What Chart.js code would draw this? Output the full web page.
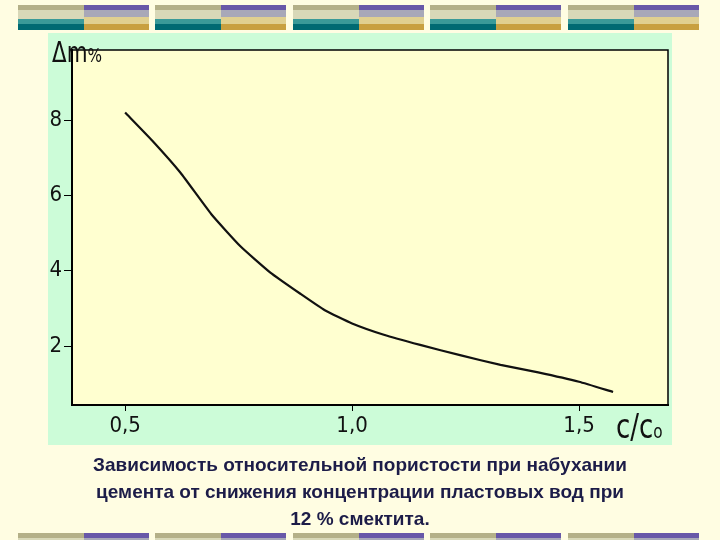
<!DOCTYPE html>
<html><head><meta charset="utf-8">
<script src="https://cdn.jsdelivr.net/npm/chart.js@4"></script>
<style>
body{margin:0;width:720px;height:540px;background:#fffde2;position:relative;overflow:hidden;font-family:'Liberation Sans',Arial,sans-serif}
.g{position:absolute;width:131px;height:25px}
.l{position:absolute;left:0;top:0;width:50%;height:100%;background:linear-gradient(#b4b088 0,#b4b088 20%,#d8d8b8 20%,#d8d8b8 55%,#3a9a98 55%,#3a9a98 75%,#006a72 75%)}
.r{position:absolute;right:0;top:0;width:50%;height:100%;background:linear-gradient(#6858a8 0,#6858a8 20%,#a8a8b8 20%,#a8a8b8 50%,#e0d090 50%,#e0d090 75%,#c8a040 75%)}
#panel{position:absolute;left:48px;top:33px;width:624px;height:412px;background:#ccfcd8}
canvas{position:absolute;left:0;top:0}
.t{position:absolute;font-family:'DejaVu Sans Condensed','Liberation Sans',sans-serif;color:#111}
#cap{position:absolute;left:0;width:720px;top:451px;text-align:center;font:bold 19px 'Liberation Sans',Arial,sans-serif;color:#1c1c48;line-height:27px}
</style></head><body>
<div id="stripes"></div>
<div id="panel"></div>
<canvas id="c" width="720" height="540"></canvas>
<div class="t" style="left:52px;top:36px;font-size:28px;transform:scaleX(0.85);transform-origin:left">Δm<span style="font-size:20px">%</span></div>
<div class="t" style="left:616px;top:406px;font-size:34px;transform:scaleX(0.85);transform-origin:left">c/c<span style="font-size:20px">o</span></div>
<div id="cap">Зависимость относительной пористости при набухании<br>цемента от снижения концентрации пластовых вод при<br>12 % смектита.</div>
<script>
const xVals=[0.5,0.56,0.622,0.69,0.754,0.82,0.887,0.94,1.0,1.07,1.15,1.24,1.327,1.41,1.5,1.575];
const yVals=[8.2,7.45,6.6,5.5,4.65,3.95,3.38,2.95,2.6,2.3,2.03,1.75,1.5,1.3,1.05,0.78];
const xTicks=[0.5,1.0,1.5];
const yTicks=[2,4,6,8];
const st=document.getElementById('stripes');
[18,155,293,430,568].forEach(x=>{
  st.innerHTML+=`<div class="g" style="left:${x}px;top:5px"><div class="l"></div><div class="r"></div></div>`;
  st.innerHTML+=`<div class="g" style="left:${x}px;top:533px"><div class="l"></div><div class="r"></div></div>`;
});
const bg={id:'bg',beforeDraw(c){const a=c.chartArea,x=c.ctx;x.save();x.fillStyle='#ffffd0';x.fillRect(a.left,a.top,a.width,a.height);x.restore();},
afterDraw(c){const a=c.chartArea,x=c.ctx;x.save();x.strokeStyle='#000';x.lineWidth=1.5;x.beginPath();x.moveTo(a.left,a.top);x.lineTo(a.right,a.top);x.lineTo(a.right,a.bottom);x.stroke();x.restore();}};
new Chart(document.getElementById('c'),{type:'scatter',
data:{datasets:[{data:xVals.map((v,i)=>({x:v,y:yVals[i]})),showLine:true,borderColor:'#111',borderWidth:2.2,pointRadius:0,tension:0.15}]},
options:{responsive:false,animation:false,layout:{padding:{top:50,right:52,left:0,bottom:0}},
plugins:{legend:{display:false},tooltip:{enabled:false}},
scales:{
x:{type:'linear',min:0.383,max:1.696,afterBuildTicks:s=>{s.ticks=xTicks.map(v=>({value:v}))},afterFit:s=>{s.height=135},
 ticks:{color:'#111',font:{family:"'DejaVu Sans Condensed'",size:22},padding:2,callback:v=>v.toFixed(1).replace('.',',')},
 grid:{drawOnChartArea:false,tickColor:'#000',tickLength:6},border:{color:'#000',width:2}},
y:{min:0.434,max:9.86,afterBuildTicks:s=>{s.ticks=yTicks.map(v=>({value:v}))},afterFit:s=>{s.width=72},
 ticks:{color:'#111',font:{family:"'DejaVu Sans Condensed'",size:22},padding:2},
 grid:{drawOnChartArea:false,tickColor:'#000',tickLength:8},border:{color:'#000',width:2}}
}},plugins:[bg]});
</script></body></html>
